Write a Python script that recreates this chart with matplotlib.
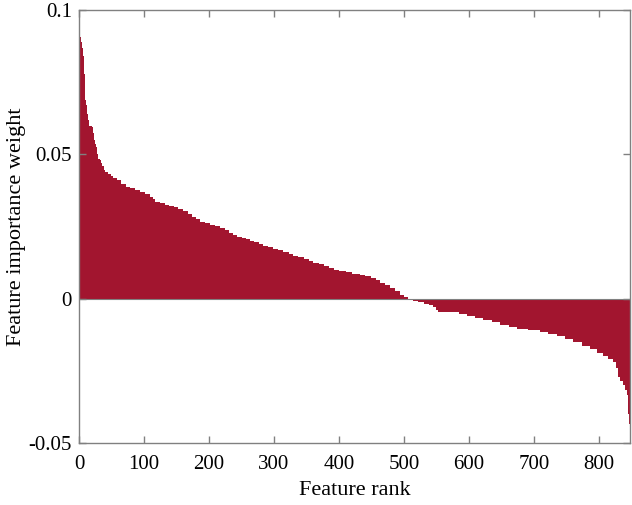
import numpy as np
import matplotlib
matplotlib.use("Agg")
import matplotlib.pyplot as plt

# sorted feature weights, read off the picture as steps:
# each step starts at rank step_start[i] and holds step_value[i]
n_features = 847

step_start = [
    0, 2, 4, 5, 7, 8, 9, 10, 12, 13, 14, 16, 19, 21, 22, 23, 24, 25, 27, 29,
    31, 33, 35, 38, 40, 44, 48, 52, 58, 64, 71, 78, 86, 94, 101, 109, 113, 117,
    124, 131, 138, 145, 152, 160, 167, 173, 180, 186, 194, 201, 209, 217, 224,
    230, 237, 243, 250, 256, 262, 268, 276, 283, 290, 298, 306, 314, 322, 329,
    337, 345, 353, 360, 368, 376, 384, 391, 400, 410, 420, 432, 440, 448, 456,
    463, 470, 478, 486, 494, 500, 505, 514, 522, 530, 538, 545, 549, 552, 560,
    571, 584, 596, 609, 622, 635, 648, 661, 674, 691, 709, 722, 735, 748, 760,
    773, 786, 796, 806, 814, 822, 826, 829, 832, 836, 840, 843, 844, 845, 846,
]

step_value = [
    0.0907, 0.0890, 0.0870, 0.0840, 0.0780, 0.0720, 0.0690, 0.0670, 0.0640,
    0.0620, 0.0600, 0.0598, 0.0595, 0.0575, 0.0567, 0.0550, 0.0535, 0.0526,
    0.0500, 0.0485, 0.0480, 0.0470, 0.0458, 0.0447, 0.0440, 0.0432, 0.0425,
    0.0419, 0.0410, 0.0398, 0.0388, 0.0382, 0.0376, 0.0370, 0.0362, 0.0353,
    0.0345, 0.0336, 0.0332, 0.0326, 0.0322, 0.0318, 0.0312, 0.0305, 0.0294,
    0.0284, 0.0275, 0.0267, 0.0262, 0.0256, 0.0251, 0.0246, 0.0238, 0.0229,
    0.0222, 0.0215, 0.0210, 0.0205, 0.0200, 0.0197, 0.0190, 0.0184, 0.0178,
    0.0173, 0.0167, 0.0161, 0.0155, 0.0149, 0.0143, 0.0137, 0.0131, 0.0125,
    0.0119, 0.0112, 0.0106, 0.0100, 0.0096, 0.0092, 0.0087, 0.0083, 0.0078,
    0.0073, 0.0064, 0.0055, 0.0047, 0.0038, 0.0026, 0.0014, 0.0006, -0.0002,
    -0.0007, -0.0012, -0.0018, -0.0023, -0.0028, -0.0040, -0.0045, -0.0046,
    -0.0048, -0.0054, -0.0060, -0.0066, -0.0073, -0.0081, -0.0090, -0.0097,
    -0.0104, -0.0109, -0.0114, -0.0122, -0.0131, -0.0141, -0.0152, -0.0164,
    -0.0176, -0.0188, -0.0200, -0.0209, -0.0218, -0.0240, -0.0270, -0.0285,
    -0.0300, -0.0315, -0.0335, -0.0350, -0.0400, -0.0436,
]

x_ticks = [0, 100, 200, 300, 400, 500, 600, 700, 800]
y_ticks = [-0.05, 0, 0.05, 0.1]
y_tick_labels = ["-0.05", "0", "0.05", "0.1"]

bar_color = "#a2152f"
axis_color = "#808080"

counts = np.diff(step_start + [n_features])
weights = np.repeat(step_value, counts)
ranks = np.arange(1, n_features + 1)

plt.rcParams["font.family"] = ["Liberation Serif", "DejaVu Serif"]

fig = plt.figure(figsize=(6.32, 5.05), dpi=100)
ax = fig.add_axes([0.125, 0.123, 0.872, 0.857])

# slightly wider than 1 so neighbouring bars close up without seams
ax.bar(ranks, weights, width=1.25, color=bar_color, linewidth=0)
ax.axhline(0, color=axis_color, linewidth=0.8, zorder=3)

ax.set_xlim(0, 848)
ax.set_ylim(-0.05, 0.1)
ax.set_xticks(x_ticks)
ax.set_yticks(y_ticks)
ax.set_yticklabels(y_tick_labels)

ax.tick_params(direction="in", top=True, right=True, length=5, width=1,
               labelsize=15, colors=axis_color, labelcolor="black")
ax.tick_params(axis="x", pad=9)
ax.tick_params(axis="y", pad=5)
for spine in ax.spines.values():
    spine.set_color(axis_color)
    spine.set_linewidth(1.0)

ax.set_xlabel("Feature rank", fontsize=16, labelpad=5)
ax.set_ylabel("Feature importance weight", fontsize=16, labelpad=2)

fig.savefig("out.png", dpi=100)
